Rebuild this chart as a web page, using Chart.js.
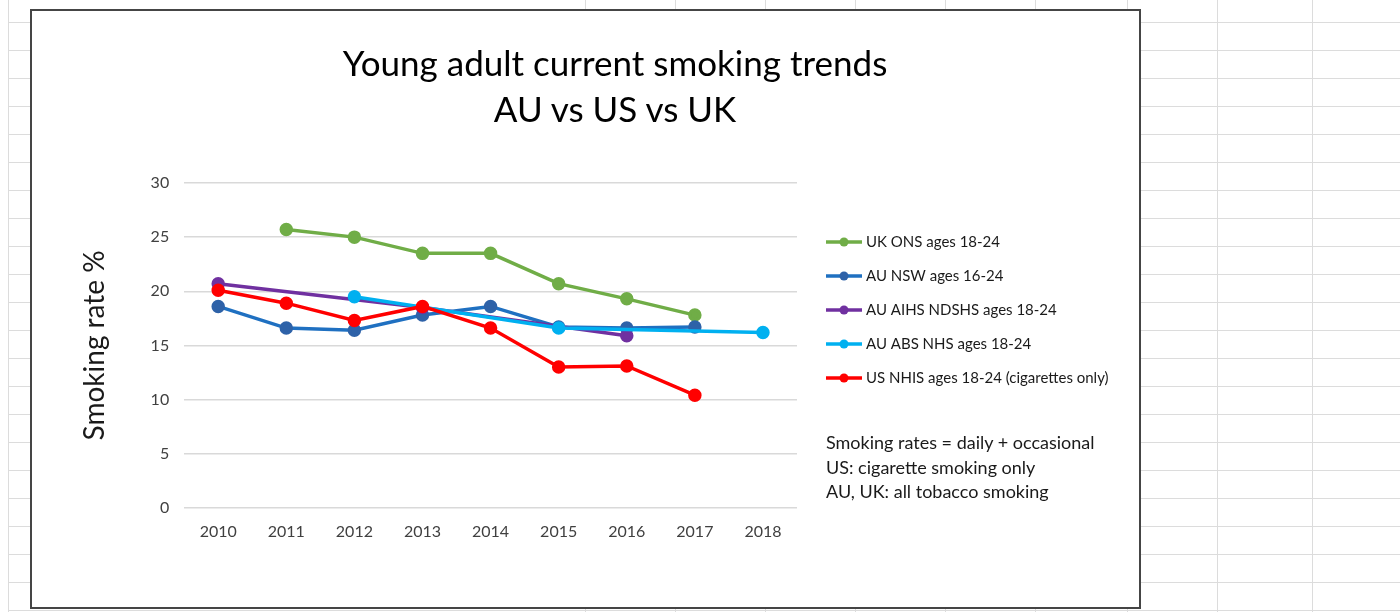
<!DOCTYPE html>
<html>
<head>
<meta charset="utf-8">
<script src="https://cdn.jsdelivr.net/npm/chart.js@4"></script>
<style>
    html, body { margin: 0; padding: 0; background: #fff; }
    body { width: 1400px; height: 612px; position: relative; overflow: hidden; font-family: Lato, sans-serif; }
    .sheet {
        position: absolute; left: 8px; top: 0; right: 0; bottom: 0;
        background-image: linear-gradient(to bottom, #dcdcdc 1px, transparent 1px);
        background-size: 100% 28px;
        background-position: 0 22px;
        border-left: 1px solid #dcdcdc;
    }
    .col { position: absolute; top: 0; bottom: 0; width: 1px; background: #dcdcdc; }
    .chart-box {
        position: absolute; left: 30px; top: 9px; width: 1107px; height: 596px;
        border: 2px solid #454545; background: #fff;
    }
    .chart-box canvas { position: absolute; left: 0; top: 0; }
    .chart-title {
        position: absolute; left: 283px; width: 600px; top: 28px;
        text-align: center; font-size: 35px; line-height: 46px; color: #000;
    }
    .notes {
        position: absolute; left: 794px; top: 419px;
        font-size: 18px; line-height: 24.5px; color: #1a1a1a; white-space: nowrap;
    }
</style>
</head>
<body>
<div class="sheet"></div>
<div class="col" style="left:585px"></div>
<div class="col" style="left:675px"></div>
<div class="col" style="left:765px"></div>
<div class="col" style="left:855px"></div>
<div class="col" style="left:945px"></div>
<div class="col" style="left:1035px"></div>
<div class="col" style="left:1127px"></div>
<div class="col" style="left:1217px"></div>
<div class="col" style="left:1312px"></div>

<div class="chart-box">
    <canvas id="smokingChart" width="1107" height="596"></canvas>
    <div class="chart-title">Young adult current smoking trends<br>AU vs US vs UK</div>
    <div class="notes">
        Smoking rates = daily + occasional<br>
        US: cigarette smoking only<br>
        AU, UK: all tobacco smoking
    </div>
</div>

<script>
const years = ['2010', '2011', '2012', '2013', '2014', '2015', '2016', '2017', '2018'];

const ukOns = [null, 25.7, 25.0, 23.5, 23.5, 20.7, 19.3, 17.8, null];
const auNsw = [18.6, 16.6, 16.4, 17.8, 18.6, 16.7, 16.6, 16.7, null];
const auNdshs = [20.7, null, null, 18.5, null, null, 15.9, null, null];
const auAbs = [null, null, 19.5, null, null, 16.6, null, null, 16.2];
const usNhis = [20.1, 18.9, 17.3, 18.6, 16.6, 13.0, 13.1, 10.4, null];

const seriesLabels = [
    'UK ONS ages 18-24',
    'AU NSW ages 16-24',
    'AU AIHS NDSHS ages 18-24',
    'AU ABS NHS ages 18-24',
    'US NHIS ages 18-24 (cigarettes only)',
];

const lineColors = ['#70ad47', '#1f70c1', '#7030a0', '#00b0f0', '#ff0000'];
const markerColors = ['#70ad47', '#2e62a8', '#7030a0', '#00b0f0', '#ff0000'];

const makeSeries = (label, data, i) => ({
    label,
    data,
    borderColor: lineColors[i],
    backgroundColor: markerColors[i],
    pointBackgroundColor: markerColors[i],
    pointBorderColor: markerColors[i],
    pointRadius: 5,
    pointHoverRadius: 5,
    borderWidth: 3.5,
    spanGaps: true,
    tension: 0,
    // later series sit on top, like in Excel
    order: 10 - i,
});

// legend drawn by hand so it can sit apart from the plot like Excel's
const sideLegend = {
    id: 'sideLegend',
    afterDraw(chart) {
        const { ctx, chartArea } = chart;
        const x0 = chartArea.right + 29;
        ctx.save();
        ctx.font = '15px Lato';
        ctx.textBaseline = 'middle';
        chart.data.datasets.forEach((ds, i) => {
            const y = 231 + i * 34;
            ctx.strokeStyle = ds.borderColor;
            ctx.lineWidth = 3.5;
            ctx.beginPath();
            ctx.moveTo(x0, y);
            ctx.lineTo(x0 + 36, y);
            ctx.stroke();
            ctx.fillStyle = ds.pointBackgroundColor;
            ctx.beginPath();
            ctx.arc(x0 + 18, y, 4.5, 0, Math.PI * 2);
            ctx.fill();
            ctx.fillStyle = '#1a1a1a';
            ctx.fillText(ds.label, x0 + 40, y);
        });
        ctx.restore();
    },
};

new Chart(document.getElementById('smokingChart'), {
    type: 'line',
    data: {
        labels: years,
        datasets: [ukOns, auNsw, auNdshs, auAbs, usNhis].map((data, i) => makeSeries(seriesLabels[i], data, i)),
    },
    options: {
        responsive: false,
        animation: false,
        layout: {
            padding: { left: 46, right: 342, top: 172, bottom: 52 },
        },
        plugins: {
            legend: { display: false },
            tooltip: { enabled: false },
            title: { display: false },
        },
        scales: {
            x: {
                offset: true,
                grid: { display: false, drawTicks: false },
                border: { display: false },
                ticks: {
                    color: '#404040',
                    padding: 14,
                    font: { family: 'Lato', size: 16 },
                    maxRotation: 0,
                },
            },
            y: {
                min: 0,
                max: 30,
                grid: { color: '#d9d9d9', lineWidth: 1.5, drawTicks: false },
                border: { display: false },
                ticks: {
                    stepSize: 5,
                    color: '#404040',
                    padding: 15,
                    font: { family: 'Lato', size: 16 },
                },
                title: {
                    display: true,
                    text: 'Smoking rate %',
                    color: '#1a1a1a',
                    font: { family: 'Lato', size: 28, lineHeight: 1.2 },
                    padding: { top: 0, bottom: 24 },
                },
            },
        },
    },
    plugins: [sideLegend],
});
</script>
</body>
</html>
